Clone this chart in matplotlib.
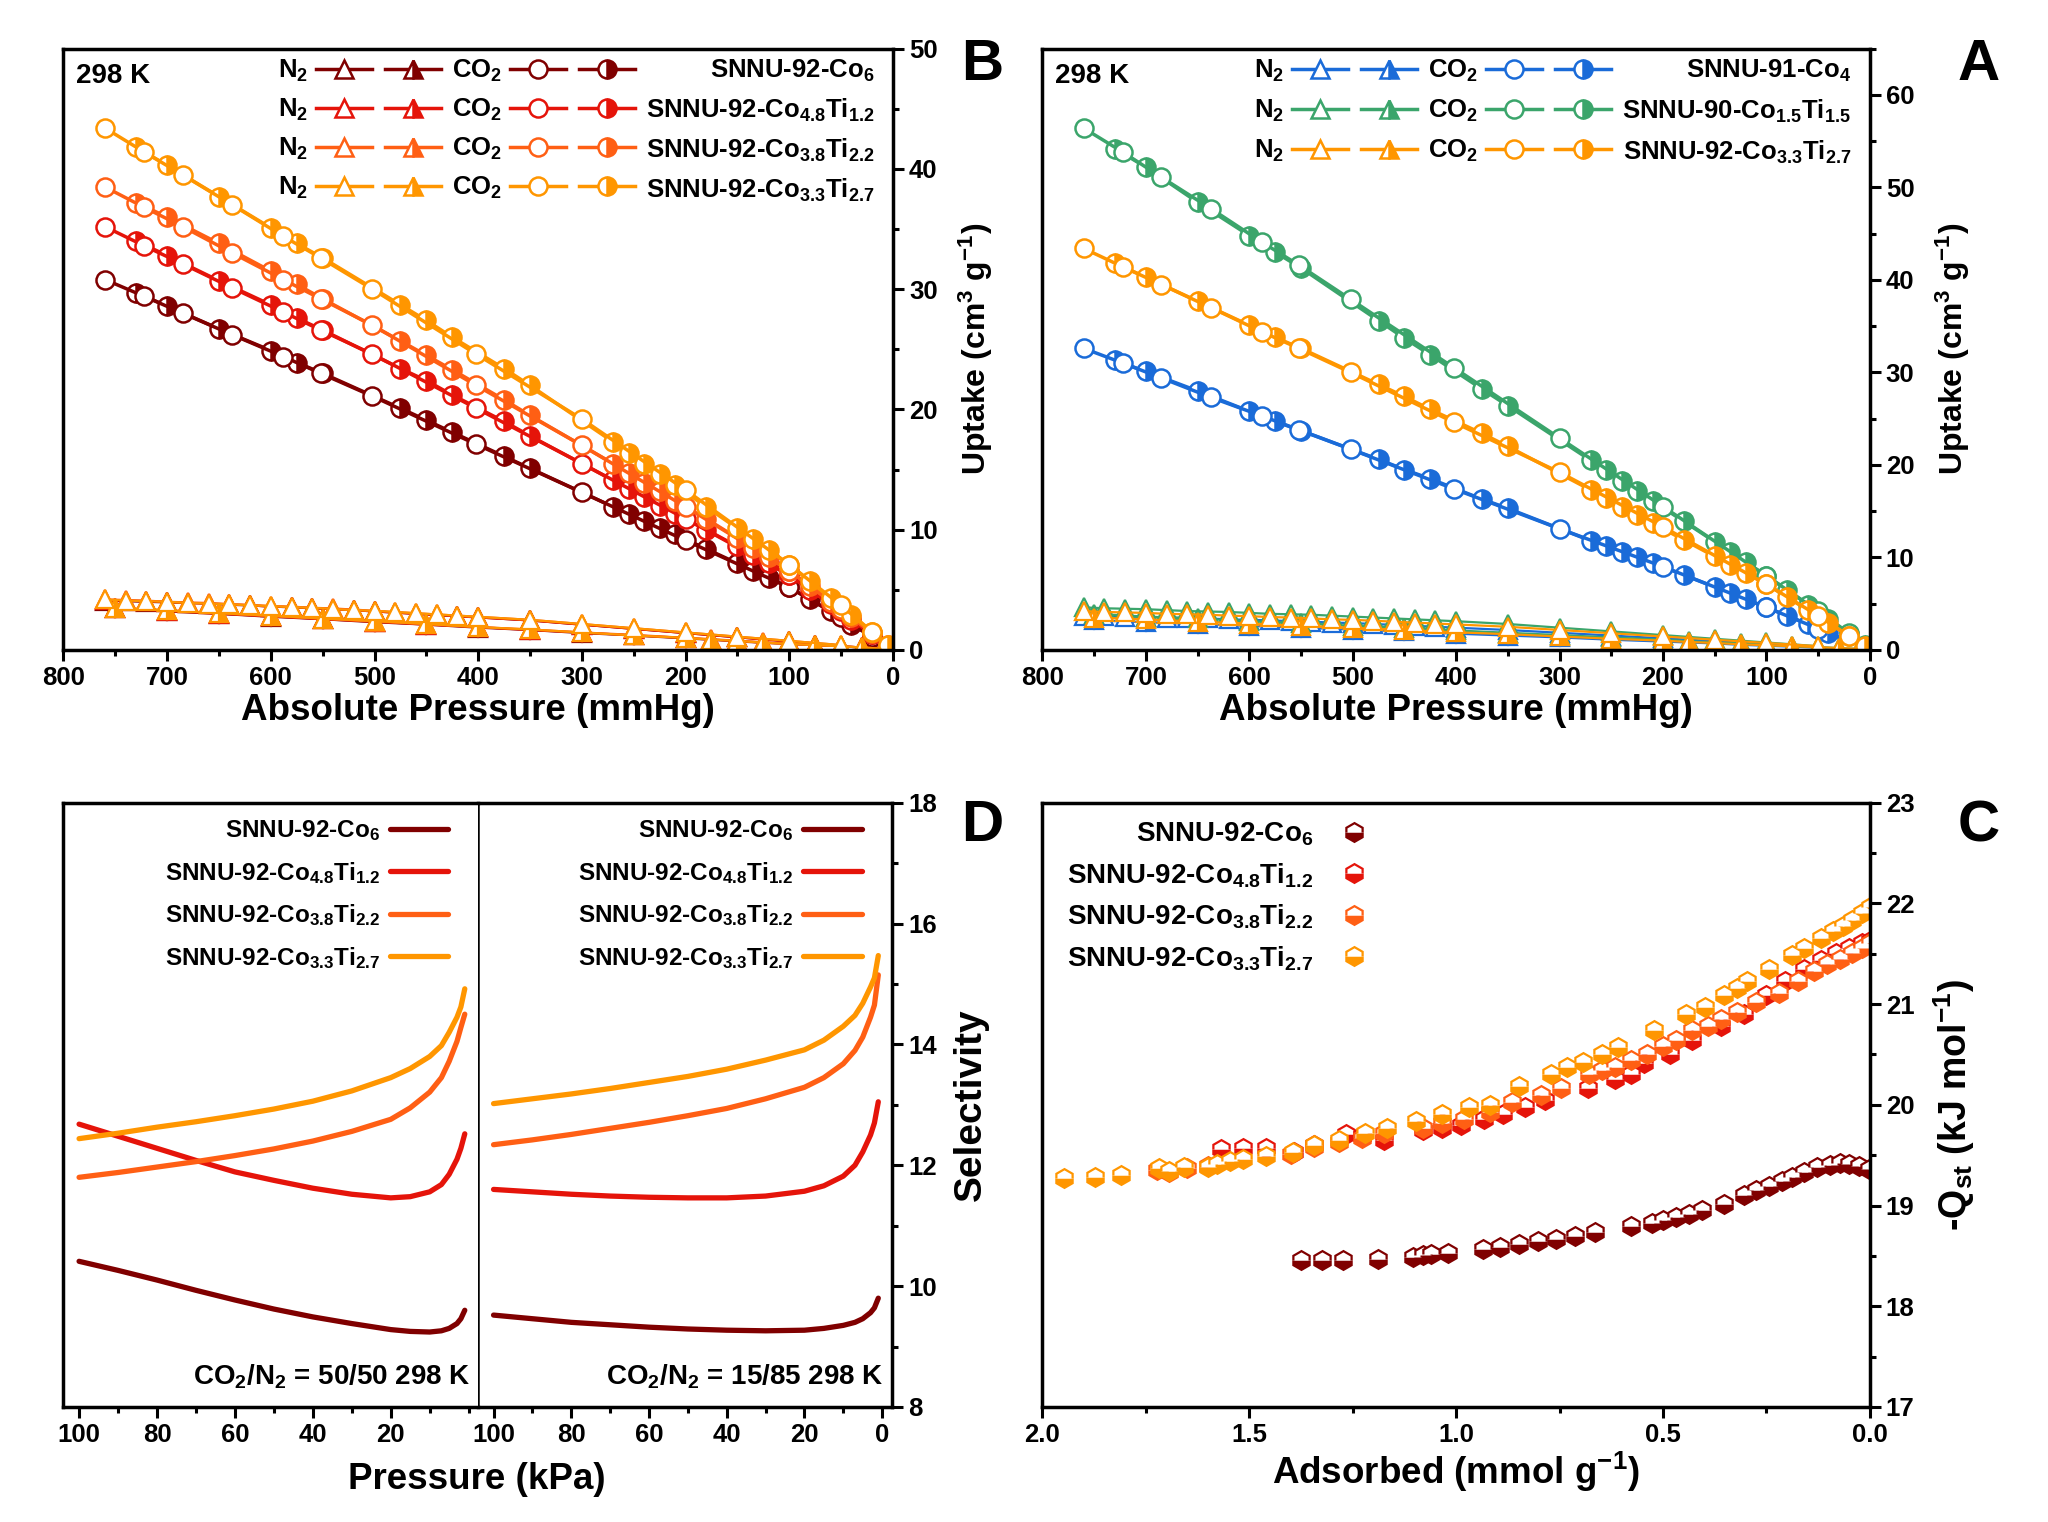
import matplotlib
matplotlib.use("Agg")
import matplotlib.pyplot as plt
from matplotlib.lines import Line2D
from matplotlib.legend_handler import HandlerTuple
from matplotlib.ticker import MultipleLocator, FixedLocator

plt.rcParams.update({
    "font.family": ["Liberation Sans", "DejaVu Sans"],
    "font.weight": "bold",
    "axes.labelweight": "bold",
    "mathtext.fontset": "custom",
    "mathtext.rm": "Liberation Sans:bold",
    "mathtext.it": "Liberation Sans:bold",
    "mathtext.bf": "Liberation Sans:bold",
    "mathtext.default": "bf",
})

DARK = "#800000"
RED = "#E5140A"
ORRED = "#FF5F14"
ORANGE = "#FF9600"
BLUE = "#1A6BD8"
GREEN = "#3BA56B"

# ---- CO2 / N2 isotherms, 298 K (mmHg, cm3 g-1) ----
co2_ads_p = [5, 20, 40, 60, 80, 100, 120, 135, 150, 180, 210, 225, 240, 255, 270,
             350, 375, 425, 450, 475, 550, 575, 600, 650, 700, 730]
co2_des_p = [760, 722, 685, 637, 588, 552, 502, 402, 300, 200, 100, 50, 20]
n2_ads_p = [10, 30, 50, 75, 100, 125, 150, 175, 200, 250, 300, 350, 400, 450, 500,
            550, 600, 650, 700, 750]
n2_des_p = [760, 740, 720, 700, 680, 660, 640, 620, 600, 580, 560, 540, 520, 500, 480,
            460, 440, 420, 400, 350, 300, 250, 200, 150, 100, 50]

co4_co2_ads = [0.2, 0.9, 1.8, 2.8, 3.7, 4.6, 5.5, 6.1, 6.8, 8.1, 9.4, 10.0, 10.6, 11.2, 11.8,
               15.3, 16.3, 18.5, 19.5, 20.6, 23.7, 24.7, 25.8, 28.0, 30.1, 31.3]
co4_co2_des = [32.6, 31.0, 29.4, 27.3, 25.3, 23.8, 21.7, 17.4, 13.1, 9.0, 4.6, 2.3, 0.9]
co4_n2_ads = [0.05, 0.15, 0.25, 0.35, 0.45, 0.55, 0.7, 0.8, 0.9, 1.1, 1.35, 1.55, 1.75, 2.0,
              2.2, 2.4, 2.6, 2.8, 3.0, 3.2]
co4_n2_des = [3.7, 3.65, 3.6, 3.55, 3.5, 3.45, 3.4, 3.3, 3.25, 3.2, 3.1, 3.05, 2.95, 2.9, 2.8,
              2.7, 2.6, 2.5, 2.4, 2.15, 1.85, 1.55, 1.25, 0.95, 0.65, 0.3]

co15_co2_ads = [0.5, 1.7, 3.3, 4.9, 6.5, 8.0, 9.5, 10.6, 11.7, 13.9, 16.1, 17.2, 18.3, 19.4,
                20.5, 26.4, 28.2, 31.9, 33.7, 35.6, 41.3, 43.0, 44.8, 48.4, 52.2, 54.2]
co15_co2_des = [56.4, 53.8, 51.1, 47.7, 44.1, 41.6, 37.9, 30.5, 22.9, 15.5, 8.0, 4.2, 1.8]
co15_n2_ads = [0.1, 0.2, 0.3, 0.4, 0.55, 0.7, 0.8, 0.95, 1.1, 1.35, 1.6, 1.85, 2.1, 2.4, 2.6,
               2.9, 3.1, 3.4, 3.6, 3.9]
co15_n2_des = [4.6, 4.5, 4.45, 4.4, 4.3, 4.2, 4.15, 4.1, 4.0, 3.9, 3.85, 3.8, 3.7, 3.6, 3.5,
               3.4, 3.3, 3.2, 3.1, 2.8, 2.4, 2.0, 1.6, 1.2, 0.8, 0.4]

co33_co2_ads = [0.4, 1.5, 2.9, 4.3, 5.7, 7.1, 8.3, 9.2, 10.1, 11.9, 13.7, 14.6, 15.5, 16.4,
                17.3, 22.0, 23.4, 26.0, 27.4, 28.7, 32.6, 33.8, 35.1, 37.7, 40.3, 41.8]
co33_co2_des = [43.4, 41.4, 39.5, 37.0, 34.4, 32.6, 30.0, 24.6, 19.2, 13.3, 7.1, 3.7, 1.5]
co33_n2_ads = [0.1, 0.2, 0.3, 0.4, 0.5, 0.6, 0.75, 0.85, 1.0, 1.2, 1.45, 1.7, 1.9, 2.15, 2.4,
               2.6, 2.85, 3.05, 3.3, 3.5]
co33_n2_des = [4.2, 4.1, 4.05, 4.0, 3.9, 3.85, 3.8, 3.7, 3.65, 3.55, 3.5, 3.4, 3.3, 3.25, 3.15,
               3.05, 2.95, 2.85, 2.75, 2.5, 2.15, 1.8, 1.45, 1.1, 0.75, 0.4]

co6_co2_ads = [0.3, 1.1, 2.1, 3.2, 4.2, 5.2, 6.0, 6.6, 7.2, 8.4, 9.6, 10.1, 10.7, 11.3, 11.9,
               15.1, 16.1, 18.1, 19.1, 20.1, 23.0, 23.9, 24.9, 26.7, 28.6, 29.7]
co6_co2_des = [30.8, 29.4, 28.0, 26.2, 24.4, 23.0, 21.1, 17.1, 13.1, 9.1, 5.2, 2.7, 1.1]
co6_n2_ads = [0.1, 0.2, 0.3, 0.4, 0.5, 0.6, 0.7, 0.85, 0.95, 1.2, 1.4, 1.65, 1.85, 2.1, 2.3,
              2.55, 2.75, 3.0, 3.2, 3.45]
co6_n2_des = [4.1, 4.05, 4.0, 3.95, 3.9, 3.85, 3.75, 3.7, 3.6, 3.55, 3.45, 3.4, 3.3, 3.2, 3.1,
              3.0, 2.9, 2.8, 2.7, 2.45, 2.1, 1.75, 1.4, 1.05, 0.7, 0.35]

co48_co2_ads = [0.3, 1.3, 2.5, 3.8, 5.0, 6.2, 7.2, 7.9, 8.6, 10.0, 11.3, 12.0, 12.7, 13.4, 14.1,
                17.8, 19.0, 21.2, 22.4, 23.4, 26.6, 27.6, 28.7, 30.7, 32.8, 34.0]
co48_co2_des = [35.2, 33.6, 32.1, 30.1, 28.1, 26.6, 24.6, 20.1, 15.5, 10.9, 6.2, 3.2, 1.3]
co48_n2_ads = [0.1, 0.2, 0.3, 0.4, 0.5, 0.6, 0.75, 0.85, 1.0, 1.2, 1.45, 1.65, 1.9, 2.1, 2.35,
               2.55, 2.8, 3.0, 3.25, 3.45]
co48_n2_des = [4.15, 4.1, 4.05, 4.0, 3.9, 3.85, 3.8, 3.7, 3.6, 3.55, 3.5, 3.4, 3.3, 3.2, 3.1,
               3.0, 2.9, 2.8, 2.7, 2.45, 2.1, 1.75, 1.4, 1.05, 0.7, 0.35]

co38_co2_ads = [0.4, 1.4, 2.7, 4.0, 5.3, 6.6, 7.7, 8.5, 9.3, 10.9, 12.4, 13.2, 13.9, 14.7, 15.5,
                19.5, 20.8, 23.3, 24.5, 25.7, 29.2, 30.4, 31.5, 33.8, 36.0, 37.2]
co38_co2_des = [38.5, 36.8, 35.2, 33.0, 30.8, 29.2, 27.0, 22.0, 17.0, 11.9, 6.6, 3.4, 1.4]
co38_n2_ads = [0.1, 0.2, 0.3, 0.4, 0.5, 0.65, 0.75, 0.9, 1.0, 1.25, 1.45, 1.7, 1.9, 2.15, 2.35,
               2.6, 2.8, 3.05, 3.3, 3.5]
co38_n2_des = [4.2, 4.15, 4.1, 4.0, 3.95, 3.9, 3.8, 3.75, 3.65, 3.6, 3.5, 3.45, 3.35, 3.25, 3.15,
               3.05, 2.95, 2.85, 2.75, 2.5, 2.15, 1.8, 1.45, 1.1, 0.75, 0.4]

# ---- isosteric heat (mmol g-1, kJ mol-1) ----
qst_co6_x = [1.375, 1.324, 1.274, 1.189, 1.104, 1.081, 1.060, 1.019, 0.936, 0.895, 0.848,
             0.802, 0.758, 0.712, 0.665, 0.577, 0.526, 0.499, 0.468, 0.437, 0.406, 0.352,
             0.305, 0.274, 0.243, 0.212, 0.189, 0.158, 0.127, 0.096, 0.073, 0.050, 0.026, 0.003]
qst_co6_y = [18.46, 18.46, 18.46, 18.47, 18.49, 18.51, 18.52, 18.53, 18.57, 18.59, 18.62,
             18.65, 18.67, 18.70, 18.74, 18.80, 18.83, 18.86, 18.89, 18.92, 18.96, 19.02,
             19.10, 19.15, 19.19, 19.24, 19.28, 19.33, 19.38, 19.40, 19.42, 19.41, 19.39, 19.36]
qst_co48_x = [1.569, 1.515, 1.460, 1.391, 1.344, 1.267, 1.228, 1.174, 1.081, 1.034, 0.988,
              0.933, 0.887, 0.833, 0.786, 0.681, 0.616, 0.577, 0.546, 0.484, 0.429, 0.360,
              0.305, 0.251, 0.205, 0.158, 0.119, 0.081, 0.050, 0.019, 0.0]
qst_co48_y = [19.56, 19.57, 19.57, 19.53, 19.60, 19.71, 19.69, 19.65, 19.75, 19.77, 19.80,
              19.86, 19.91, 19.98, 20.05, 20.17, 20.26, 20.31, 20.42, 20.50, 20.64, 20.78,
              20.90, 21.09, 21.23, 21.35, 21.44, 21.51, 21.56, 21.61, 21.63]
qst_co38_x = [1.724, 1.693, 1.650, 1.600, 1.398, 1.344, 1.282, 1.228, 1.174, 1.081, 1.034,
              0.980, 0.918, 0.864, 0.794, 0.747, 0.678, 0.647, 0.616, 0.577, 0.538, 0.499,
              0.468, 0.429, 0.391, 0.360, 0.321, 0.274, 0.220, 0.174, 0.135, 0.104, 0.073,
              0.042, 0.019, 0.0]
qst_co38_y = [19.35, 19.33, 19.37, 19.39, 19.51, 19.58, 19.63, 19.67, 19.72, 19.77, 19.82,
              19.86, 19.93, 20.03, 20.10, 20.17, 20.31, 20.35, 20.38, 20.45, 20.50, 20.58,
              20.64, 20.74, 20.78, 20.85, 20.92, 21.02, 21.11, 21.23, 21.33, 21.40, 21.45,
              21.51, 21.56, 21.61]
qst_co33_x = [1.949, 1.874, 1.809, 1.719, 1.693, 1.657, 1.600, 1.577, 1.546, 1.515, 1.460,
              1.394, 1.344, 1.282, 1.220, 1.166, 1.096, 1.034, 0.969, 0.918, 0.848, 0.771,
              0.732, 0.693, 0.647, 0.608, 0.522, 0.445, 0.398, 0.352, 0.321, 0.298, 0.243,
              0.189, 0.158, 0.119, 0.088, 0.065, 0.042, 0.019, 0.0]
qst_co33_y = [19.27, 19.28, 19.30, 19.37, 19.34, 19.38, 19.38, 19.41, 19.44, 19.46, 19.49,
              19.53, 19.60, 19.65, 19.72, 19.77, 19.84, 19.91, 19.98, 20.00, 20.19, 20.31,
              20.38, 20.43, 20.50, 20.57, 20.74, 20.90, 20.97, 21.09, 21.16, 21.23, 21.35,
              21.49, 21.56, 21.66, 21.73, 21.78, 21.84, 21.90, 21.96]

# ---- IAST selectivity (kPa) ----
sel_p = [100, 90, 80, 70, 60, 50, 40, 30, 20, 15, 10, 7, 5, 3, 2, 1]
sel15_co6 = [9.52, 9.46, 9.40, 9.36, 9.32, 9.29, 9.27, 9.26, 9.27, 9.30, 9.35, 9.40, 9.46,
             9.56, 9.64, 9.80]
sel15_co48 = [11.60, 11.56, 11.52, 11.49, 11.47, 11.46, 11.46, 11.49, 11.57, 11.66, 11.82,
              12.00, 12.22, 12.50, 12.70, 13.05]
sel15_co38 = [12.34, 12.42, 12.51, 12.61, 12.71, 12.82, 12.94, 13.10, 13.29, 13.45, 13.68,
              13.90, 14.12, 14.45, 14.65, 15.15]
sel15_co33 = [13.02, 13.10, 13.18, 13.27, 13.37, 13.47, 13.59, 13.74, 13.91, 14.07, 14.30,
              14.48, 14.68, 14.95, 15.10, 15.47]
sel50_co6 = [10.41, 10.26, 10.10, 9.93, 9.77, 9.62, 9.49, 9.38, 9.28, 9.25, 9.24, 9.26, 9.30,
             9.38, 9.46, 9.60]
sel50_co48 = [12.68, 12.48, 12.28, 12.08, 11.89, 11.75, 11.62, 11.52, 11.46, 11.48, 11.56,
              11.68, 11.85, 12.10, 12.28, 12.52]
sel50_co38 = [11.80, 11.88, 11.97, 12.06, 12.16, 12.27, 12.40, 12.56, 12.76, 12.95, 13.21,
              13.45, 13.72, 14.05, 14.28, 14.50]
sel50_co33 = [12.44, 12.53, 12.63, 12.72, 12.82, 12.93, 13.06, 13.23, 13.45, 13.60, 13.80,
              13.98, 14.20, 14.45, 14.62, 14.92]

lbl_co4 = "SNNU-91-Co$_4$"
lbl_co15 = "SNNU-90-Co$_{1.5}$Ti$_{1.5}$"
lbl_co33 = "SNNU-92-Co$_{3.3}$Ti$_{2.7}$"
lbl_co6 = "SNNU-92-Co$_6$"
lbl_co48 = "SNNU-92-Co$_{4.8}$Ti$_{1.2}$"
lbl_co38 = "SNNU-92-Co$_{3.8}$Ti$_{2.2}$"

TICK = 18.5
XLABEL = 26.5
LEG = 18.5


def style_axis(ax):
    for sp in ax.spines.values():
        sp.set_linewidth(2.5)
    ax.yaxis.tick_right()
    ax.yaxis.set_label_position("right")
    ax.tick_params(which="both", direction="out", top=False, left=False, right=True,
                   labelleft=False, labelright=True, labelsize=TICK, width=2.2)
    ax.tick_params(which="major", length=8)
    ax.tick_params(which="minor", length=4.5)


def iso_line(color, marker, fill):
    if fill:
        return Line2D([], [], color=color, lw=2.5, marker=marker, ms=13, mec=color,
                      mfc=color, mfcalt="white", fillstyle="right", mew=1.8)
    return Line2D([], [], color=color, lw=2.5, marker=marker, ms=13, mec=color,
                  mfc="white", mew=1.8)


def plot_isotherm(ax, color, co2_ads, co2_des, n2_ads, n2_des):
    ax.plot(n2_ads_p, n2_ads, color=color, lw=1.6, marker="^", ms=12.5, mec=color,
            mfc=color, mfcalt="white", fillstyle="right", mew=1.6)
    ax.plot(n2_des_p, n2_des, color=color, lw=1.6, marker="^", ms=12.5, mec=color,
            mfc="white", mew=1.6)
    ax.plot(co2_ads_p, co2_ads, color=color, lw=2.5, marker="o", ms=13, mec=color,
            mfc=color, mfcalt="white", fillstyle="right", mew=1.8)
    ax.plot(co2_des_p, co2_des, color=color, lw=2.5, marker="o", ms=13, mec=color,
            mfc="white", mew=1.8)


def isotherm_legend(ax, entries, anchor_x, spacing):
    handles, labels = [], []
    for color, _ in entries:
        handles.append((iso_line(color, "^", False), iso_line(color, "^", True)))
        labels.append("N$_2$")
    for color, _ in entries:
        handles.append((iso_line(color, "o", False), iso_line(color, "o", True)))
        labels.append("CO$_2$")
    for _, name in entries:
        handles.append(Line2D([], [], linestyle="none"))
        labels.append(name)
    ax.legend(handles, labels, ncol=3, markerfirst=False, frameon=False,
              handler_map={tuple: HandlerTuple(ndivide=None, pad=0.5)},
              handlelength=4.85, handletextpad=0.3, columnspacing=0.45,
              labelspacing=spacing, fontsize=LEG, loc="upper right",
              bbox_to_anchor=(anchor_x, 1.01), borderaxespad=0.2)


fig = plt.figure(figsize=(20.48, 15.22), dpi=100)

# ---- A ----
axA = fig.add_axes([0.509, 0.573, 0.404, 0.395])
plot_isotherm(axA, BLUE, co4_co2_ads, co4_co2_des, co4_n2_ads, co4_n2_des)
plot_isotherm(axA, GREEN, co15_co2_ads, co15_co2_des, co15_n2_ads, co15_n2_des)
plot_isotherm(axA, ORANGE, co33_co2_ads, co33_co2_des, co33_n2_ads, co33_n2_des)
axA.set_xlim(800, 0)
axA.set_ylim(0, 65)
axA.xaxis.set_major_locator(MultipleLocator(100))
axA.xaxis.set_minor_locator(MultipleLocator(50))
axA.yaxis.set_major_locator(MultipleLocator(10))
axA.yaxis.set_minor_locator(MultipleLocator(5))
style_axis(axA)
axA.set_xlabel("Absolute Pressure (mmHg)", fontsize=XLABEL, labelpad=2)
axA.set_ylabel("Uptake (cm$^3$ g$^{-1}$)", fontsize=23, labelpad=14)
isotherm_legend(axA, [(BLUE, lbl_co4), (GREEN, lbl_co15), (ORANGE, lbl_co33)], 1.156, 0.53)
axA.text(0.015, 0.955, "298 K", transform=axA.transAxes, fontsize=20,
         fontweight="bold", va="center", ha="left")

# ---- B ----
axB = fig.add_axes([0.031, 0.573, 0.405, 0.395])
plot_isotherm(axB, DARK, co6_co2_ads, co6_co2_des, co6_n2_ads, co6_n2_des)
plot_isotherm(axB, RED, co48_co2_ads, co48_co2_des, co48_n2_ads, co48_n2_des)
plot_isotherm(axB, ORRED, co38_co2_ads, co38_co2_des, co38_n2_ads, co38_n2_des)
plot_isotherm(axB, ORANGE, co33_co2_ads, co33_co2_des, co33_n2_ads, co33_n2_des)
axB.set_xlim(800, 0)
axB.set_ylim(0, 50)
axB.xaxis.set_major_locator(MultipleLocator(100))
axB.xaxis.set_minor_locator(MultipleLocator(50))
axB.yaxis.set_major_locator(MultipleLocator(10))
axB.yaxis.set_minor_locator(MultipleLocator(5))
style_axis(axB)
axB.set_xlabel("Absolute Pressure (mmHg)", fontsize=XLABEL, labelpad=2)
axB.set_ylabel("Uptake (cm$^3$ g$^{-1}$)", fontsize=23, labelpad=14)
isotherm_legend(axB, [(DARK, lbl_co6), (RED, lbl_co48), (ORRED, lbl_co38),
                      (ORANGE, lbl_co33)], 1.156, 0.5)
axB.text(0.015, 0.955, "298 K", transform=axB.transAxes, fontsize=20,
         fontweight="bold", va="center", ha="left")

# ---- C ----
axC = fig.add_axes([0.509, 0.0756, 0.404, 0.397])
for xs, ys, color, name in [(qst_co6_x, qst_co6_y, DARK, lbl_co6),
                            (qst_co48_x, qst_co48_y, RED, lbl_co48),
                            (qst_co38_x, qst_co38_y, ORRED, lbl_co38),
                            (qst_co33_x, qst_co33_y, ORANGE, lbl_co33)]:
    axC.plot(xs, ys, linestyle="none", marker="h", ms=13.5, mec=color, mfc=color,
             mfcalt="white", fillstyle="bottom", mew=1.6, label=name)
axC.set_xlim(2.0, 0)
axC.set_ylim(17, 23)
axC.xaxis.set_major_locator(MultipleLocator(0.5))
axC.xaxis.set_minor_locator(MultipleLocator(0.25))
axC.yaxis.set_major_locator(MultipleLocator(1))
axC.yaxis.set_minor_locator(MultipleLocator(0.5))
axC.xaxis.set_major_formatter(lambda v, p: f"{v:.1f}")
style_axis(axC)
axC.set_xlabel("Adsorbed (mmol g$^{-1}$)", fontsize=XLABEL, labelpad=2)
axC.set_ylabel("-Q$_{st}$ (kJ mol$^{-1}$)", fontsize=27, labelpad=12)
axC.legend(loc="upper left", bbox_to_anchor=(0.0, 1.012), frameon=False,
           markerfirst=False, fontsize=20, handlelength=1.1, handletextpad=0.9,
           labelspacing=0.47)

# ---- D ----
axD2 = fig.add_axes([0.2334, 0.0756, 0.2021, 0.397])
axD1 = fig.add_axes([0.031, 0.0756, 0.2026, 0.397], sharey=axD2)
for ax, curves, note in [
        (axD2, [sel15_co6, sel15_co48, sel15_co38, sel15_co33], "CO$_2$/N$_2$ = 15/85 298 K"),
        (axD1, [sel50_co6, sel50_co48, sel50_co38, sel50_co33], "CO$_2$/N$_2$ = 50/50 298 K")]:
    for ys, color, name in zip(curves, [DARK, RED, ORRED, ORANGE],
                               [lbl_co6, lbl_co48, lbl_co38, lbl_co33]):
        ax.plot(sel_p, ys, color=color, lw=3.8, label=name, solid_capstyle="round")
    ax.set_xlim(104, -2.5)
    ax.xaxis.set_minor_locator(MultipleLocator(10))
    ax.legend(loc="upper right", frameon=False, markerfirst=False, fontsize=17.5,
              handlelength=2.4, handletextpad=0.4, labelspacing=0.68,
              bbox_to_anchor=(0.98, 1.01))
    ax.text(0.98, 0.05, note, transform=ax.transAxes, ha="right", va="center",
            fontsize=20, fontweight="bold")
axD2.set_ylim(8, 18)
axD2.yaxis.set_major_locator(MultipleLocator(2))
axD2.yaxis.set_minor_locator(MultipleLocator(1))
axD2.xaxis.set_major_locator(MultipleLocator(20))
style_axis(axD2)
axD2.spines["left"].set_linewidth(1.8)
axD2.set_ylabel("Selectivity", fontsize=28, labelpad=12)
axD1.xaxis.set_major_locator(FixedLocator([20, 40, 60, 80, 100]))
for sp in axD1.spines.values():
    sp.set_linewidth(2.5)
axD1.spines["right"].set_visible(False)
axD1.tick_params(which="both", direction="out", top=False, left=False, right=False,
                 labelleft=False, labelright=False, labelsize=TICK, width=2.2)
axD1.tick_params(which="major", length=8)
axD1.tick_params(which="minor", length=4.5)
fig.text(0.2328, 0.028, "Pressure (kPa)", ha="center", va="center",
         fontsize=XLABEL, fontweight="bold")

# panel letters
for x, y, s in [(0.966, 0.957, "A"), (0.4795, 0.957, "B"), (0.966, 0.457, "C"),
                (0.4795, 0.457, "D")]:
    fig.text(x, y, s, ha="center", va="center", fontsize=42, fontweight="bold")

fig.savefig("out.png", dpi=100)
